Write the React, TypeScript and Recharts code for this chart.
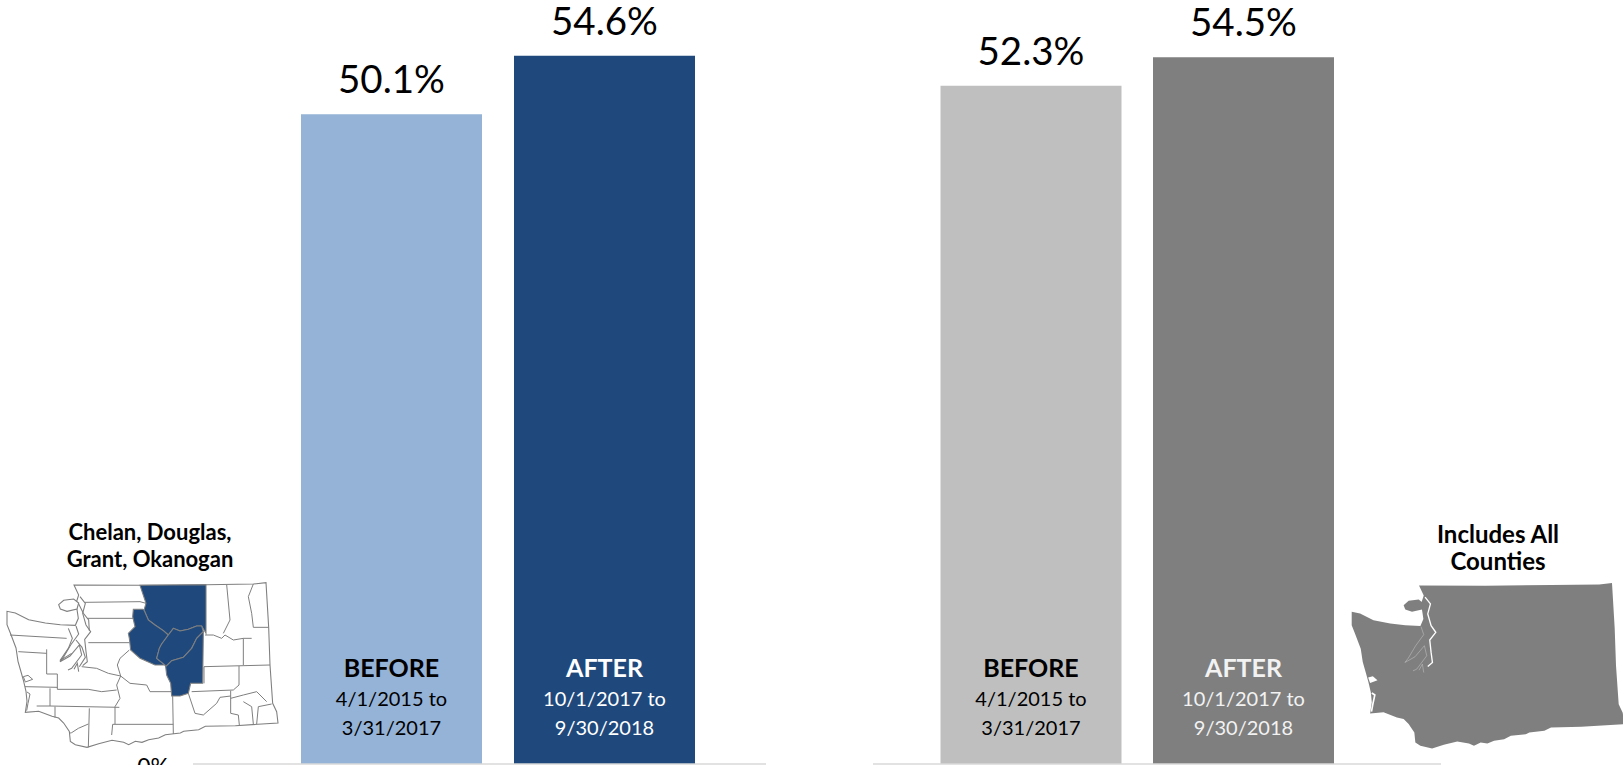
import { Bar, BarChart, Cell, LabelList, XAxis, YAxis } from "recharts";

const periods = ["BEFORE", "AFTER"];
const startDates = ["4/1/2015 to", "10/1/2017 to"];
const endDates = ["3/31/2017", "9/30/2018"];
const regionValues = [50.1, 54.6];
const stateValues = [52.3, 54.5];
const regionColors = ["#95B3D7", "#1F497D"];
const stateColors = ["#BFBFBF", "#7F7F7F"];
const regionText = ["#000000", "#FFFFFF"];
const stateText = ["#000000", "#F2F2F2"];

const FONT = "Lato, 'Noto Sans', sans-serif";
const GRID_GREY = "#D9D9D9";
const COUNTY_LINE = "#7F7F7F";

// Washington outline and county borders, in a 870x585 drawing space
const STATE_OUTLINE =
  "M222,45 L420,46 L618,44 L760,42 L798,38 L806,172 L810,285 L818,400 L830,425 L834,459 L706,467 L616,469 L596,479 L551,484 L541,489 L496,494 L476,504 L446,509 L426,517 L406,514 L386,524 L371,517 L336,511 L296,521 L261,532 L226,524 L211,514 L208,484 L191,459 L176,444 L156,439 L116,424 L76,427 L81,394 L78,364 L71,334 L64,309 L54,274 L48,234 L31,189 L21,164 L21,124 L46,129 L86,149 L136,159 L181,164 L226,166 L235,145 L232,125 L228,100 L236,75 Z";
const SAN_JUAN = "M176,104 L191,91 L221,87 L236,99 L231,117 L201,124 L181,117 Z";
const MAIN_SOUND = [
  "M240,80 L256,100 L248,130 L258,165 L272,185 L254,208 L258,245 L262,275 L248,287",
];
const HOOD_CANAL = [
  "M228,168 L236,192 L212,225 L190,262 L180,275 L210,258 L238,225 L245,255 L215,295 L204,300",
  "M222,298 L232,280 L236,305",
];
const SOUND_DETAIL = [
  "M235,100 L250,130 L266,150 L268,182",
  "M205,175 L217,205 L205,235 L180,272 L215,250",
  "M228,210 L246,232 L256,262 L238,290",
];
const BORDERS = [
  "M255,97 L420,95 L438,100",
  "M262,145 L400,145",
  "M265,218 L388,218",
  "M388,240 L360,265 L352,285 L362,318",
  "M245,290 L290,295 L325,310 L362,318",
  "M362,318 L350,345 L360,385 L345,410 L345,462",
  "M362,318 L390,340 L440,345 L450,365 L515,365",
  "M518,378 L520,492",
  "M338,463 L520,463",
  "M338,463 L335,495",
  "M110,408 L150,408 L358,412",
  "M268,415 L265,532",
  "M165,410 L165,443",
  "M265,462 L235,475 L215,488 L207,490",
  "M150,355 L150,408",
  "M172,358 L265,358 L305,365 L350,360",
  "M75,350 L172,352",
  "M55,245 L140,250",
  "M140,238 L140,312 L172,312 L172,358",
  "M30,195 L200,205",
  "M680,44 L690,150 L670,190",
  "M760,42 L745,80 L755,130 L760,172 L806,172",
  "M615,195 L640,195 L665,205 L675,195 L700,210 L730,205 L755,205",
  "M730,205 L730,285",
  "M612,290 L810,285",
  "M612,290 L612,340",
  "M717,288 L717,345 L700,360 L575,365",
  "M565,370 L585,430 L610,435 L650,400 L660,382 L692,378",
  "M692,362 L692,430 L715,435 L718,465",
  "M692,385 L730,375 L770,365 L800,395",
  "M730,395 L755,410 L760,462",
  "M775,410 L770,462",
  "M775,410 L815,402",
];
const SELECTED_COUNTIES = [
  "M420,46 L618,44 L618,190 L605,168 L590,168 L565,178 L540,183 L520,175 L505,195 L490,182 L465,165 L445,150 L432,120 L438,100 L428,70 Z",
  "M400,118 L428,118 L432,120 L445,150 L465,165 L490,182 L505,195 L485,222 L478,235 L470,265 L495,285 L465,285 L420,265 L392,240 L388,205 L385,190 L405,170 L398,140 Z",
  "M520,175 L540,183 L565,178 L590,168 L605,168 L610,185 L590,205 L575,235 L550,262 L515,272 L497,290 L495,285 L470,265 L478,235 L485,222 L505,195 Z",
  "M497,290 L515,272 L550,262 L575,235 L590,205 L610,185 L608,340 L572,340 L565,370 L540,378 L515,378 L512,340 L500,315 Z",
];
const GRAYS_HARBOR = "M70,320 L84,316 L98,328 L76,336 Z";
const WILLAPA_BAY = "M81,366 L90,372 L84,400 L80,422";

function CountyMap() {
  return (
    <svg
      viewBox="0 0 870 585"
      width={290}
      height={195}
      style={{ position: "absolute", left: 0, top: 570 }}
    >
      <path d={STATE_OUTLINE} fill="#FFFFFF" stroke={COUNTY_LINE} strokeWidth={3.2} />
      <path d={SAN_JUAN} fill="#FFFFFF" stroke={COUNTY_LINE} strokeWidth={3.2} />
      <path d={GRAYS_HARBOR} fill="#FFFFFF" stroke={COUNTY_LINE} strokeWidth={3} />
      <path d={WILLAPA_BAY} fill="none" stroke={COUNTY_LINE} strokeWidth={3} />
      {[...MAIN_SOUND, ...HOOD_CANAL, ...SOUND_DETAIL].map((d) => (
        <path key={d} d={d} fill="none" stroke={COUNTY_LINE} strokeWidth={3.2} />
      ))}
      {BORDERS.map((d) => (
        <path key={d} d={d} fill="none" stroke={COUNTY_LINE} strokeWidth={3} />
      ))}
      {SELECTED_COUNTIES.map((d) => (
        <path key={d} d={d} fill="#1F497D" stroke={COUNTY_LINE} strokeWidth={3.2} />
      ))}
    </svg>
  );
}

function StateMap() {
  return (
    <svg
      viewBox="0 0 849 585"
      width={283}
      height={195}
      style={{ position: "absolute", left: 1340, top: 570 }}
    >
      <g transform="translate(14,1) scale(1.005)">
        <path d={STATE_OUTLINE} fill="#7F7F7F" />
        <path d={SAN_JUAN} fill="#7F7F7F" />
        {MAIN_SOUND.map((d) => (
          <path key={d} d={d} fill="none" stroke="#FFFFFF" strokeWidth={4} />
        ))}
        {HOOD_CANAL.map((d) => (
          <path key={d} d={d} fill="none" stroke="#C8C8C8" strokeWidth={1.5} />
        ))}
        <path d={GRAYS_HARBOR} fill="#FFFFFF" />
        <path d={WILLAPA_BAY} fill="none" stroke="#FFFFFF" strokeWidth={5} />
      </g>
    </svg>
  );
}

function BarCaption(props: any, textColors: string[]) {
  const { x, y, width, height, index } = props;
  const cx = x + width / 2;
  const bottom = y + height;
  return (
    <g fill={textColors[index]} textAnchor="middle" fontFamily={FONT}>
      <text x={cx} y={bottom - 87} fontSize={25} fontWeight={700}>
        {periods[index]}
      </text>
      <text x={cx} y={bottom - 58} fontSize={20}>
        {startDates[index]}
      </text>
      <text x={cx} y={bottom - 29} fontSize={20}>
        {endDates[index]}
      </text>
    </g>
  );
}

type PanelProps = {
  values: number[];
  colors: string[];
  textColors: string[];
  left: number;
  width: number;
  plotLeft: number;
  plotRight: number;
  padding: { left: number; right: number };
  showZero?: boolean;
};

function Panel({ values, colors, textColors, left, width, plotLeft, plotRight, padding, showZero }: PanelProps) {
  const data = periods.map((period, i) => ({ period, value: values[i] }));
  return (
    <div style={{ position: "absolute", left, top: 0 }}>
      <BarChart
        width={width}
        height={765}
        data={data}
        margin={{ top: 50.65, right: width - plotRight, bottom: 0, left: showZero ? 0 : plotLeft }}
        barSize={181}
      >
        <XAxis
          dataKey="period"
          tick={false}
          tickLine={false}
          height={1}
          padding={padding}
          axisLine={{ stroke: GRID_GREY, strokeWidth: 1.5 }}
        />
        <YAxis
          hide={!showZero}
          width={plotLeft}
          domain={[0, 55]}
          ticks={[0]}
          axisLine={false}
          tickLine={false}
          tickSize={0}
          tickMargin={24}
          tickFormatter={(v) => `${v}%`}
          tick={{ fill: "#000000", fontSize: 23, fontFamily: FONT, dy: 15 }}
        />
        <Bar dataKey="value" isAnimationActive={false}>
          {data.map((d, i) => (
            <Cell key={d.period} fill={colors[i]} />
          ))}
          <LabelList
            dataKey="value"
            position="top"
            offset={21}
            formatter={(v: any) => `${v}%`}
            fill="#000000"
            fontSize={38.5}
            fontFamily={FONT}
          />
          <LabelList dataKey="value" content={(p: any) => BarCaption(p, textColors)} />
        </Bar>
      </BarChart>
    </div>
  );
}

function MapTitle({ lines, cx, top, fontSize }: { lines: string[]; cx: number; top: number; fontSize: number }) {
  return (
    <svg width={300} height={70} style={{ position: "absolute", left: cx - 150, top }}>
      {lines.map((line, i) => (
        <text
          key={line}
          x={150}
          y={20 + i * 27}
          textAnchor="middle"
          fontFamily={FONT}
          fontWeight={700}
          fontSize={fontSize}
          fill="#000000"
        >
          {line}
        </text>
      ))}
    </svg>
  );
}

export default function App() {
  return (
    <div
      style={{
        position: "absolute",
        left: 0,
        top: 0,
        width: 1623,
        height: 765,
        overflow: "hidden",
        background: "#FFFFFF",
      }}
    >
      <Panel
        values={regionValues}
        colors={regionColors}
        textColors={regionText}
        left={0}
        width={800}
        plotLeft={193}
        plotRight={766}
        padding={{ left: 92, right: 55 }}
        showZero
      />
      <Panel
        values={stateValues}
        colors={stateColors}
        textColors={stateText}
        left={840}
        width={620}
        plotLeft={33}
        plotRight={601}
        padding={{ left: 51.5, right: 91.5 }}
      />
      <MapTitle lines={["Chelan, Douglas,", "Grant, Okanogan"]} cx={150} top={520} fontSize={22} />
      <MapTitle lines={["Includes All", "Counties"]} cx={1498} top={523} fontSize={24} />
      <CountyMap />
      <StateMap />
    </div>
  );
}
